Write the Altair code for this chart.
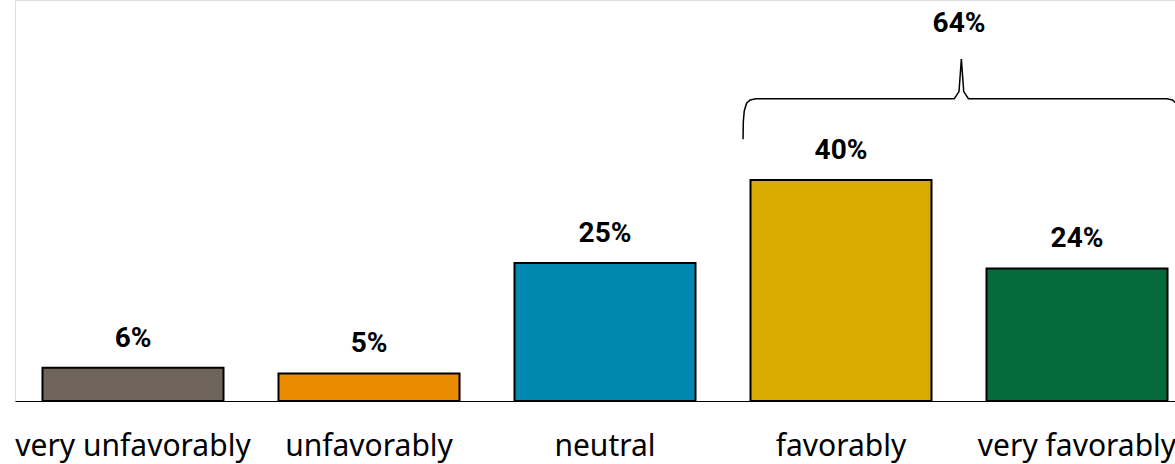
import altair as alt
import pandas as pd

categories = ["very unfavorably", "unfavorably", "neutral", "favorably", "very favorably"]
values = [6, 5, 25, 40, 24]
colors = ["#6f645a", "#eb8c00", "#0088b0", "#d9ab00", "#066b3a"]

brace_x = [2.585, 2.586, 2.59, 2.60, 2.615, 2.64, 3.48, 3.50, 3.51, 3.52, 3.54, 4.38, 4.405, 4.42, 4.43, 4.434, 4.435]
brace_y = [47.4, 50.5, 52.5, 53.9, 54.5, 54.7, 54.7, 56.0, 61.9, 56.0, 54.7, 54.7, 54.5, 53.9, 52.5, 50.5, 47.4]
total_label = "64%"
total_x = 3.5
total_y = 68.3

df = pd.DataFrame({"cat": categories, "val": values,
                   "label": [f"{v}%" for v in values]})
brace = pd.DataFrame({"bx": brace_x, "by": brace_y, "o": list(range(len(brace_x)))})
tot = pd.DataFrame({"tx": [total_x], "ty": [total_y], "t": [total_label]})

ymax = 72.58
yscale = alt.Scale(domain=[0, ymax], nice=False, zero=True)
xband = alt.Scale(domain=categories, range=[0, 1180], paddingInner=0.233, paddingOuter=0.1165)
pct_font = "Roboto"

bars = alt.Chart(df).mark_bar(stroke="black", strokeWidth=2).encode(
    x=alt.X("cat:N", scale=xband, sort=categories,
            axis=alt.Axis(title=None, labelAngle=0, ticks=False, domainColor="black",
                          domainWidth=1, labelFontSize=30, labelFont="Noto Sans",
                          labelColor="black", labelPadding=45, labelLimit=400,
                          labelBaseline="middle")),
    y=alt.Y("val:Q", scale=yscale, axis=None),
    color=alt.Color("cat:N", scale=alt.Scale(domain=categories, range=colors), legend=None),
)
texts = alt.Chart(df).mark_text(baseline="bottom", dy=-15, fontSize=28, fontWeight="bold",
                                font=pct_font, color="black").encode(
    x=alt.X("cat:N", scale=xband, sort=categories),
    y=alt.Y("val:Q", scale=yscale),
    text="label:N",
)
xq = alt.Scale(domain=[-0.5, 4.5], range=[0, 1180], nice=False, zero=False)
brace_line = alt.Chart(brace).mark_line(color="black", strokeWidth=1.5).encode(
    x=alt.X("bx:Q", scale=xq, axis=None),
    y=alt.Y("by:Q", scale=yscale),
    order="o:Q",
)
tot_text = alt.Chart(tot).mark_text(baseline="middle", fontSize=28, fontWeight="bold",
                                    font=pct_font, color="black").encode(
    x=alt.X("tx:Q", scale=xq, axis=None),
    y=alt.Y("ty:Q", scale=yscale),
    text="t:N",
)

left = alt.layer(bars, texts)
right = alt.layer(brace_line, tot_text)
chart = alt.layer(left, right).resolve_scale(x="independent").properties(
    width=1160, height=401,
    autosize=alt.AutoSizeParams(type="none"),
    padding={"left": 15, "top": 0, "right": 0, "bottom": 63},
).configure_view(stroke=None).configure(background="white")

chart.save("out.html", embed_options={"renderer": "svg", "actions": False})
